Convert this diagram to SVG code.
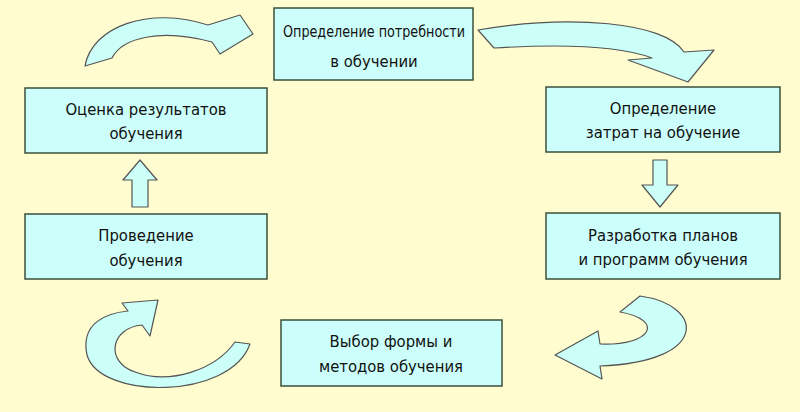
<svg xmlns="http://www.w3.org/2000/svg" width="800" height="412" viewBox="0 0 800 412">
<style>
.box{fill:#ccfffb;stroke:#3b4f3b;stroke-width:1.5}
.t{font-family:"DejaVu Sans Condensed","DejaVu Sans",sans-serif;font-size:16.5px;fill:#111;text-anchor:middle}
.ar{fill:#ccfff7;stroke:#555;stroke-width:1.2;stroke-linejoin:round}
</style>
<rect width="800" height="412" fill="#fffdd0"/>
<g id="n1"><rect class="box" x="274" y="8" width="199" height="72"/><text class="t" x="374" y="37" textLength="182" lengthAdjust="spacingAndGlyphs">Определение потребности</text><text class="t" x="374" y="67">в обучении</text></g>
<g id="n2"><rect class="box" x="546" y="87" width="234" height="65"/><text class="t" x="663" y="114">Определение</text><text class="t" x="663" y="138">затрат на обучение</text></g>
<g id="n3"><rect class="box" x="546" y="213" width="234" height="66"/><text class="t" x="663" y="241">Разработка планов</text><text class="t" x="663" y="265">и программ обучения</text></g>
<g id="n4"><rect class="box" x="281" y="320" width="221" height="66"/><text class="t" x="391" y="347">Выбор формы и</text><text class="t" x="391" y="372">методов обучения</text></g>
<g id="n5"><rect class="box" x="25" y="214" width="242" height="65"/><text class="t" x="146" y="241">Проведение</text><text class="t" x="146" y="266">обучения</text></g>
<g id="n6"><rect class="box" x="25" y="88" width="242" height="65"/><text class="t" x="146" y="115">Оценка результатов</text><text class="t" x="146" y="139">обучения</text></g>
<g id="connectors">
<path class="ar" d="M85,66 C92,26 150,6 208,25 L240,15 L253,34 L220,54 L212,42 C160,28 122,38 112,58 Z"/>
<path class="ar" d="M478,30 C570,14 665,22 684,52 L714,50 L688,82 L628,60 L652,58 C620,46 560,44 494,48 Z"/>
<path class="ar" d="M653,160 L667,160 L667,185 L678,185 L660,207 L642,185 L653,185 Z"/>
<path class="ar" d="M640,296 C705,305 710,362 600,366 L602,379 L555,355 L598,331 L600,344 C652,346 665,320 620,312 Z"/>
<path class="ar" d="M250,344 C230,400 100,400 87,355 C80,322 108,313 128,311 L122,303 L158,300 L150,336 L142,325 C110,328 105,362 135,372 C170,385 215,370 235,342 Z"/>
<path class="ar" d="M132,207 L148,207 L148,180 L157,180 L140,160 L123,180 L132,180 Z"/>
</g>
</svg>
